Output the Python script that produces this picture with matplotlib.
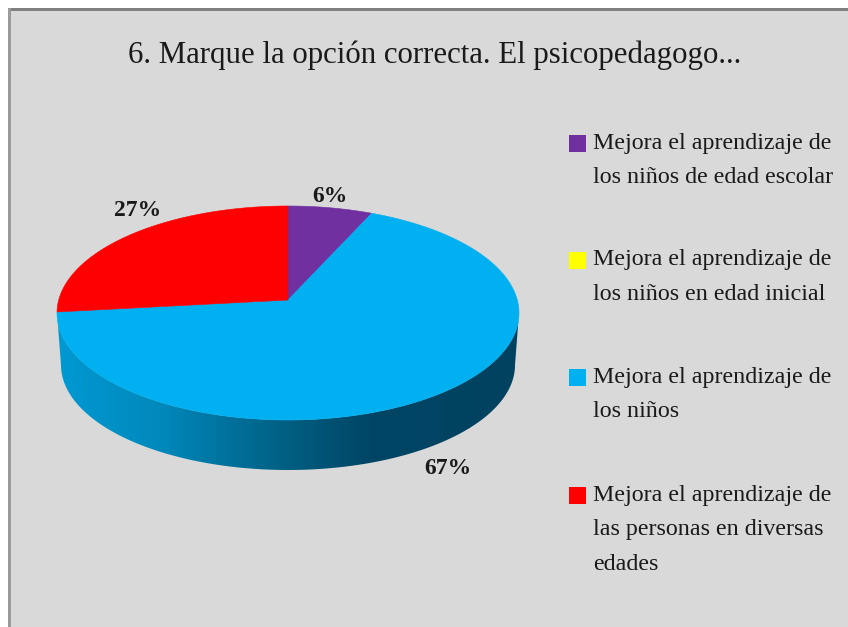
import numpy as np
import matplotlib
matplotlib.use("Agg")
import matplotlib.pyplot as plt
from matplotlib.colors import LinearSegmentedColormap
from matplotlib.patches import Polygon, Rectangle

TITLE = "6. Marque la opción correcta. El psicopedagogo..."
categories = [
    "Mejora el aprendizaje de\nlos niños de edad escolar",
    "Mejora el aprendizaje de\nlos niños en edad inicial",
    "Mejora el aprendizaje de\nlos niños",
    "Mejora el aprendizaje de\nlas personas en diversas\nedades",
]
values = [6, 0, 67, 27]
colors = ["#7030A0", "#FFFF00", "#00B0F0", "#FF0000"]
pct_labels = ["6%", "", "67%", "27%"]

BG = "#D9D9D9"
SERIF = ["Liberation Serif", "DejaVu Serif"]

# tilted pie geometry, in pixels
APEX = (288, 300)
CX, CY, RX, RY = 288, 313, 231, 107
B_CX, B_CY, B_RX, B_RY = 288, 365, 227, 105
TILT = 0.41


def rim_point(theta):
    # ray from the apex out to the top ellipse, theta clockwise from 12 o'clock
    dx, dy = np.sin(theta), -TILT * np.cos(theta)
    ox, oy = (APEX[0] - CX) / RX, (APEX[1] - CY) / RY
    ux, uy = dx / RX, dy / RY
    a = ux * ux + uy * uy
    b = 2 * (ox * ux + oy * uy)
    c = ox * ox + oy * oy - 1
    t = (-b + np.sqrt(b * b - 4 * a * c)) / (2 * a)
    return APEX[0] + t * dx, APEX[1] + t * dy


fig = plt.figure(figsize=(8.48, 6.27), dpi=100)
fig.patch.set_facecolor("white")
ax = fig.add_axes([0, 0, 1, 1])
ax.set_xlim(0, 848)
ax.set_ylim(627, 0)
ax.axis("off")

# grey panel with its top and left border, the rest is cropped away
ax.add_patch(Rectangle((8, 8), 840, 619, fc=BG, ec="none", zorder=0))
ax.add_patch(Rectangle((8, 8), 840, 3, fc="#808080", ec="none", zorder=1))
ax.add_patch(Rectangle((8, 8), 3, 619, fc="#9A9A9A", ec="none", zorder=1))

# side wall with horizontal shading
t = np.linspace(0, np.pi, 300)
side = np.vstack([
    np.column_stack([CX + RX * np.cos(t), CY + RY * np.sin(t)]),
    np.column_stack([B_CX + B_RX * np.cos(t[::-1]), B_CY + B_RY * np.sin(t[::-1])]),
])
shade = LinearSegmentedColormap.from_list("shade", [
    (0.0, "#0099D2"), (0.22, "#0089BC"), (0.38, "#00709A"),
    (0.52, "#005C7E"), (0.68, "#004565"), (1.0, "#00425F"),
])
img = ax.imshow(np.linspace(0, 1, 256).reshape(1, -1), cmap=shade, aspect="auto",
                extent=[57, 519, 470, 312], zorder=2)
ax.set_xlim(0, 848)
ax.set_ylim(627, 0)
side_patch = Polygon(side, closed=True, transform=ax.transData, fc="none", ec="none")
ax.add_patch(side_patch)
img.set_clip_path(side_patch)

# top face slices, going clockwise from 12 o'clock
start = 0.0
total = sum(values)
for val, col in zip(values, colors):
    if val == 0:
        continue
    end = start + val / total * 2 * np.pi
    rim = [rim_point(a) for a in np.linspace(start, end, 200)]
    ax.add_patch(Polygon([APEX] + rim, closed=True, fc=col, ec=col, lw=0.4, zorder=3))
    start = end

# percentage labels
for label, (x, y) in zip(pct_labels, [(330, 196), (0, 0), (448, 468), (138, 210)]):
    if label:
        ax.text(x, y, label, ha="center", va="center", fontsize=17, fontweight="bold",
                family=SERIF, color="#1A1A1A", zorder=4)

ax.text(435, 55, TITLE, ha="center", va="center", fontsize=22.2, family=SERIF,
        color="#1A1A1A", zorder=4)

# legend
key_y = [143.5, 260.5, 377.5, 495.5]
for name, col, y in zip(categories, colors, key_y):
    ax.add_patch(Rectangle((569, y - 8.5), 17, 17, fc=col, ec="none", zorder=4))
    ax.text(593, y - 11, name, ha="left", va="top", fontsize=17.3, family=SERIF,
            color="#1A1A1A", linespacing=1.86, zorder=4)

fig.savefig("out.png", dpi=100, facecolor="white")
